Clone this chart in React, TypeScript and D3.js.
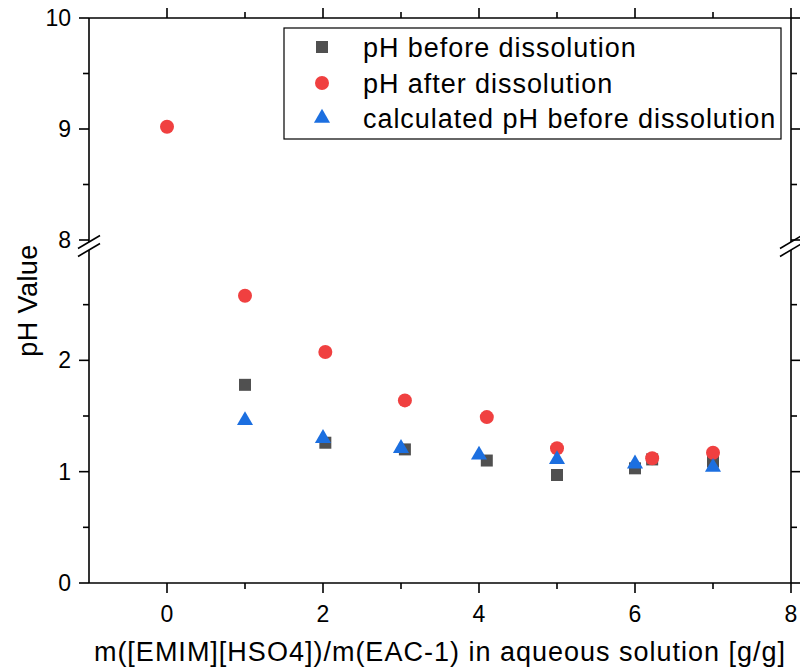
import React from "react";
import * as d3 from "d3";

const seriesNames = ["pH before dissolution", "pH after dissolution", "calculated pH before dissolution"];
const beforeX = [1, 2.03, 3.05, 4.1, 5, 6, 6.22, 7];
const beforeY = [1.78, 1.26, 1.2, 1.1, 0.97, 1.03, 1.11, 1.09];
const afterX = [0, 1, 2.03, 3.05, 4.1, 5, 6.22, 7];
const afterY = [9.02, 2.58, 2.075, 1.64, 1.49, 1.21, 1.12, 1.17];
const calcX = [1, 2, 3, 4, 5, 6, 7];
const calcY = [1.46, 1.3, 1.21, 1.15, 1.11, 1.07, 1.04];

const xMajor = [0, 2, 4, 6, 8];
const xMinor = [1, 3, 5, 7];
const yLowMajor = [0, 1, 2];
const yLowMinor = [0.5, 1.5, 2.5];
const yHighMajor = [8, 9, 10];
const yHighMinor = [8.5, 9.5];

const xTitle = "m([EMIM][HSO4])/m(EAC-1) in aqueous solution [g/g]";
const yTitle = "pH Value";

const colors = ["#505050", "#F04040", "#1C6FE0"];

export default function App() {
  const L = 89, R = 791, T = 18, B = 583;
  const x = d3.scaleLinear().domain([-1, 8]).range([L, R]);
  const yLow = d3.scaleLinear().domain([0, 3]).range([B, 249]);
  const yHigh = d3.scaleLinear().domain([8, 10]).range([240, T]);
  const y = (v: number) => (v >= 8 ? yHigh(v) : yLow(v));

  const sq = d3.symbol(d3.symbolSquare, 144)() as string;
  const ci = d3.symbol(d3.symbolCircle, Math.PI * 49)() as string;
  const tr = d3.symbol(d3.symbolTriangle, 112)() as string;
  const syms = [sq, ci, tr];

  const breakUpper = yHigh(8) + 2;
  const breakLower = yLow(3) + 1;
  const sw = 1.6;
  const font = "'Liberation Sans', Arial, sans-serif";

  const axisV = (ax: number, dir: number, labels: boolean) => (
    <g>
      <line x1={ax} x2={ax} y1={T} y2={breakUpper} stroke="#000" strokeWidth={sw} />
      <line x1={ax} x2={ax} y1={breakLower} y2={B} stroke="#000" strokeWidth={sw} />
      {[breakUpper, breakLower].map((by, i) => (
        <line key={i} x1={ax - 11} x2={ax + 11} y1={by + 6.5} y2={by - 6.5} stroke="#000" strokeWidth={sw} />
      ))}
      {yLowMajor.map((v) => (
        <line key={"lM" + v} x1={ax} x2={ax + dir * 10} y1={yLow(v)} y2={yLow(v)} stroke="#000" strokeWidth={sw} />
      ))}
      {yHighMajor.map((v) => (
        <line key={"hM" + v} x1={ax} x2={ax + dir * 10} y1={yHigh(v)} y2={yHigh(v)} stroke="#000" strokeWidth={sw} />
      ))}
      {yLowMinor.map((v) => (
        <line key={"lm" + v} x1={ax} x2={ax + dir * 6} y1={yLow(v)} y2={yLow(v)} stroke="#000" strokeWidth={sw} />
      ))}
      {yHighMinor.map((v) => (
        <line key={"hm" + v} x1={ax} x2={ax + dir * 6} y1={yHigh(v)} y2={yHigh(v)} stroke="#000" strokeWidth={sw} />
      ))}
      {labels &&
        [...yLowMajor.map((v) => [v, yLow(v)]), ...yHighMajor.map((v) => [v, yHigh(v)])].map(([v, py]) => (
          <text key={"t" + v} x={ax - 18} y={py + 8} textAnchor="end" fontSize={23} fontFamily={font}>
            {v}
          </text>
        ))}
    </g>
  );

  const axisH = (ay: number, dir: number, labels: boolean) => (
    <g>
      <line x1={L} x2={R} y1={ay} y2={ay} stroke="#000" strokeWidth={sw} />
      {xMajor.map((v) => (
        <line key={"M" + v} x1={x(v)} x2={x(v)} y1={ay} y2={ay + dir * 10} stroke="#000" strokeWidth={sw} />
      ))}
      {xMinor.map((v) => (
        <line key={"m" + v} x1={x(v)} x2={x(v)} y1={ay} y2={ay + dir * 6} stroke="#000" strokeWidth={sw} />
      ))}
      {labels &&
        xMajor.map((v) => (
          <text key={"t" + v} x={x(v)} y={622} textAnchor="middle" fontSize={23} fontFamily={font}>
            {v}
          </text>
        ))}
    </g>
  );

  const series = [
    { xs: beforeX, ys: beforeY },
    { xs: afterX, ys: afterY },
    { xs: calcX, ys: calcY },
  ];

  const legendRows = [47, 83, 118];

  return (
    <svg width={800} height={672} style={{ position: "absolute", left: 0, top: 0, background: "#fff" }}>
      <rect x={0} y={0} width={800} height={672} fill="#fff" />
      {axisV(L, -1, true)}
      {axisV(R, 1, false)}
      {axisH(B, 1, true)}
      {axisH(T, -1, false)}
      {series.map((s, si) => (
        <g key={si}>
          {s.xs.map((xv, i) => (
            <path key={i} d={syms[si]} transform={`translate(${x(xv)},${y(s.ys[i])})`} fill={colors[si]} />
          ))}
        </g>
      ))}
      <rect x={284} y={28} width={497} height={111} fill="#fff" stroke="#000" strokeWidth={1.2} />
      {seriesNames.map((n, i) => (
        <g key={n}>
          <path d={syms[i]} transform={`translate(322,${legendRows[i]})`} fill={colors[i]} />
          <text x={363} y={legendRows[i] + 9.5} fontSize={27} letterSpacing={0.95} fontFamily={font}>
            {n}
          </text>
        </g>
      ))}
      <text x={(L + R) / 2} y={661} textAnchor="middle" fontSize={27} letterSpacing={1} fontFamily={font}>
        {xTitle}
      </text>
      <text
        transform={`translate(37,${(T + B) / 2}) rotate(-90)`}
        textAnchor="middle"
        fontSize={27}
        letterSpacing={0.4}
        fontFamily={font}
      >
        {yTitle}
      </text>
    </svg>
  );
}
